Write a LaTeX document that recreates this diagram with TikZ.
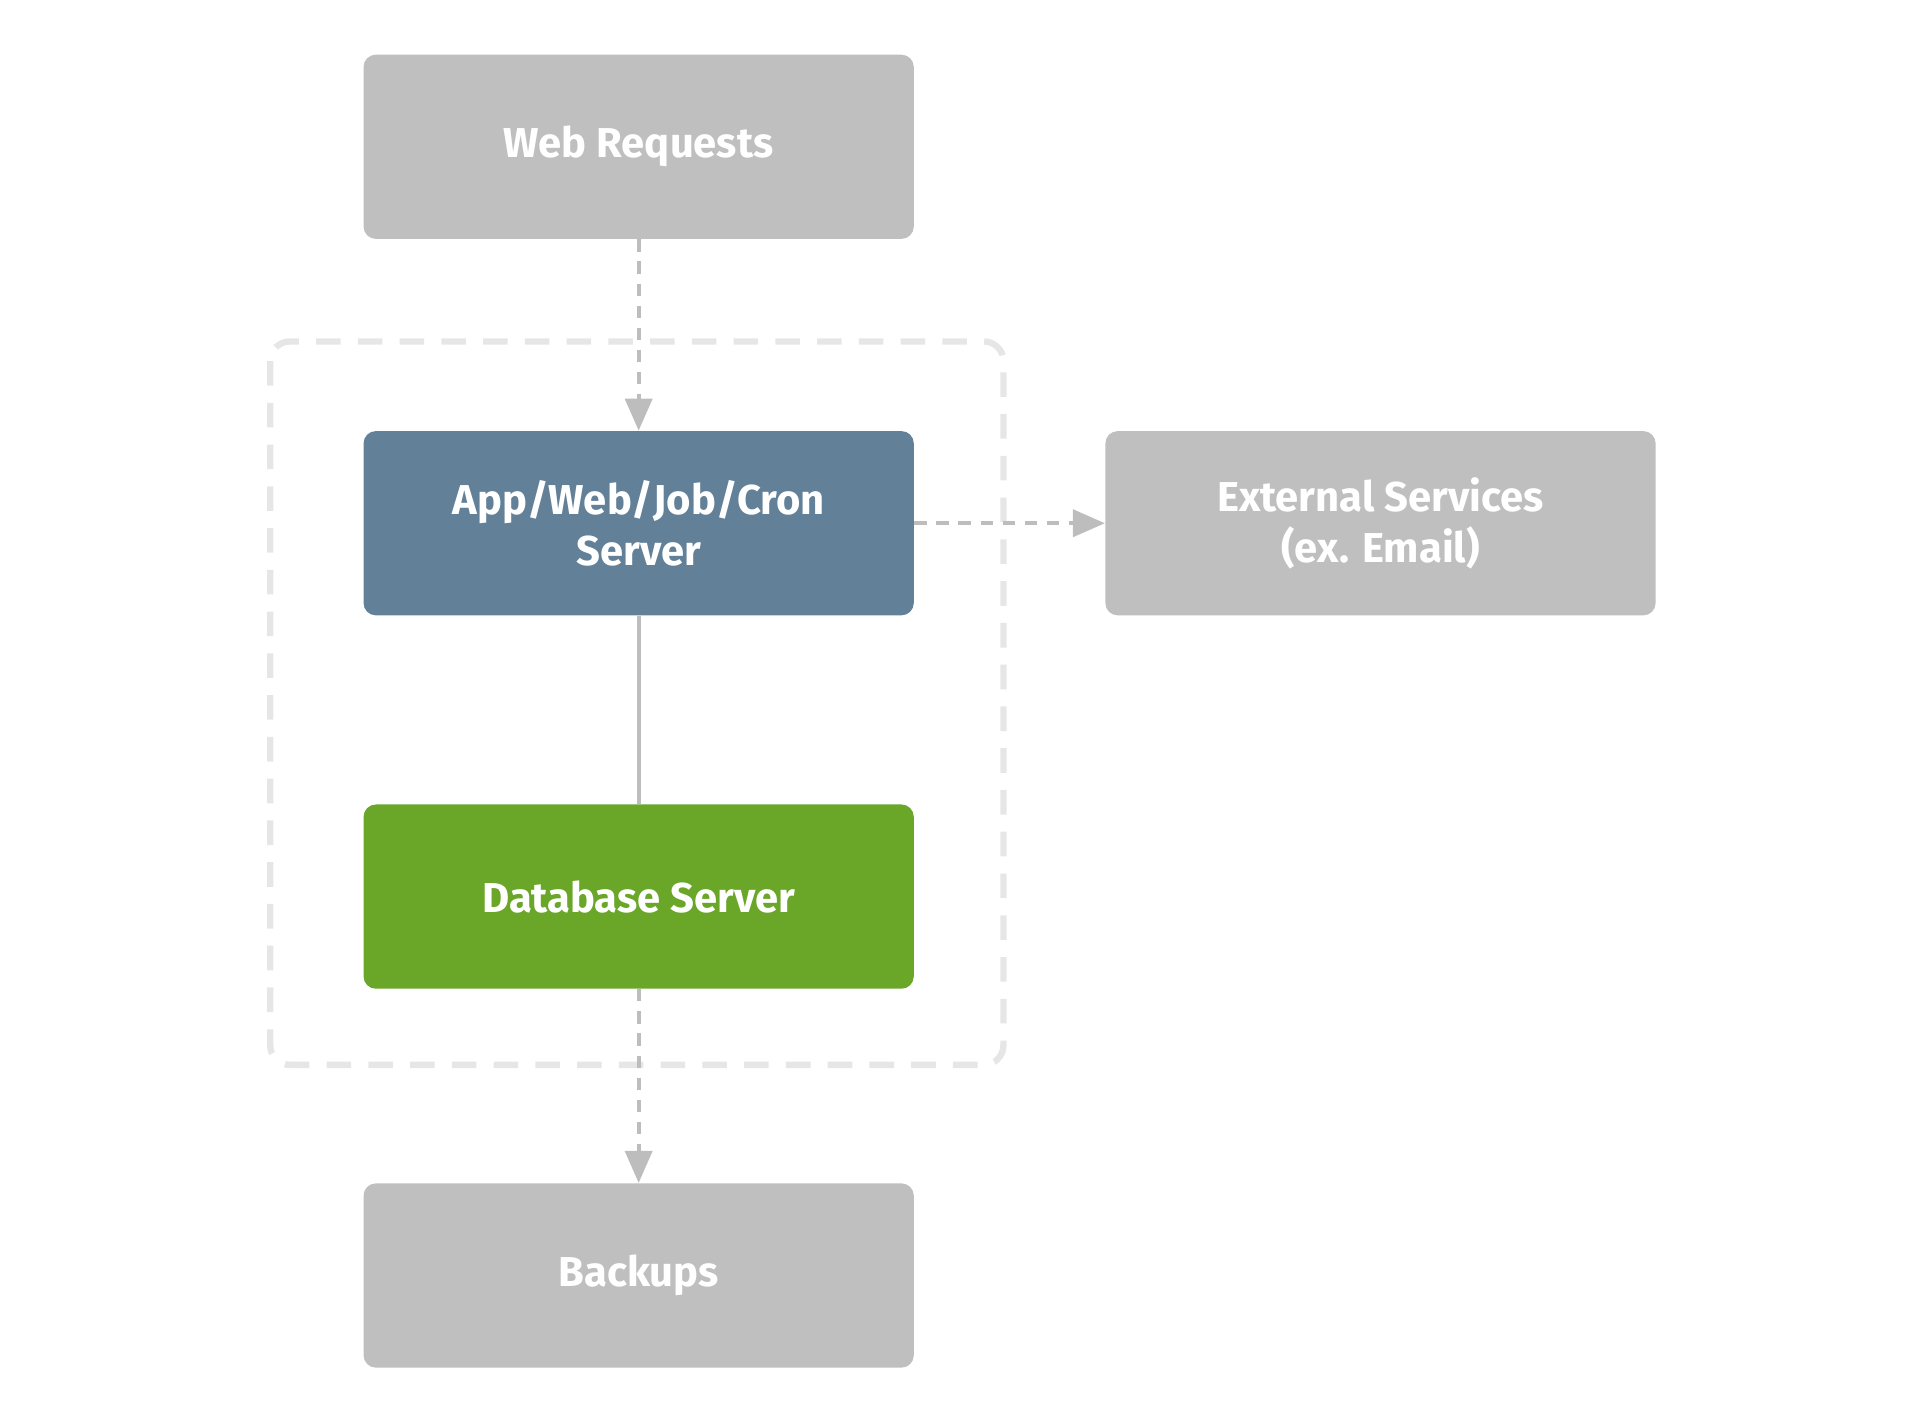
\documentclass[tikz,border=0pt]{standalone}
\usepackage{fontspec}
\setmainfont{Fira Sans}
\usetikzlibrary{arrows.meta}
\definecolor{boxgray}{HTML}{BFBFBF}
\definecolor{appblue}{HTML}{628199}
\definecolor{dbgreen}{HTML}{6AA628}
\definecolor{frame}{HTML}{E6E6E6}
\definecolor{conn}{HTML}{BDBDBD}
\begin{document}
\begin{tikzpicture}[x=0.5pt,y=-0.5pt,
  box/.style={draw=none,rounded corners=5pt,minimum width=224pt,minimum height=75pt,
    text=white,font=\fontsize{17}{21}\selectfont\bfseries,align=center,inner sep=0pt},
  conn/.style={draw=conn,line width=1.5pt},
  dashconn/.style={conn,dash pattern=on 5pt off 4pt,-{Triangle[length=13pt,width=11pt]}}]
\useasboundingbox (0,0) rectangle (1560,1153);
\draw[frame,line width=2.6pt,dash pattern=on 10pt off 7pt,rounded corners=8pt] (220,278) rectangle (817,867);
\node[box,fill=boxgray] (web) at (520,119.5) {Web Requests};
\node[box,fill=appblue] (app) at (520,426) {App/Web/Job/Cron\\Server};
\node[box,fill=boxgray] (ext) at (1124,426) {External Services\\(ex. Email)};
\node[box,fill=dbgreen] (db) at (520,730) {Database Server};
\node[box,fill=boxgray] (bak) at (520,1038.5) {Backups};
\draw[dashconn] (web) -- (app);
\draw[dashconn] (app) -- (ext);
\draw[conn] (app) -- (db);
\draw[dashconn] (db) -- (bak);
\end{tikzpicture}
\end{document}
